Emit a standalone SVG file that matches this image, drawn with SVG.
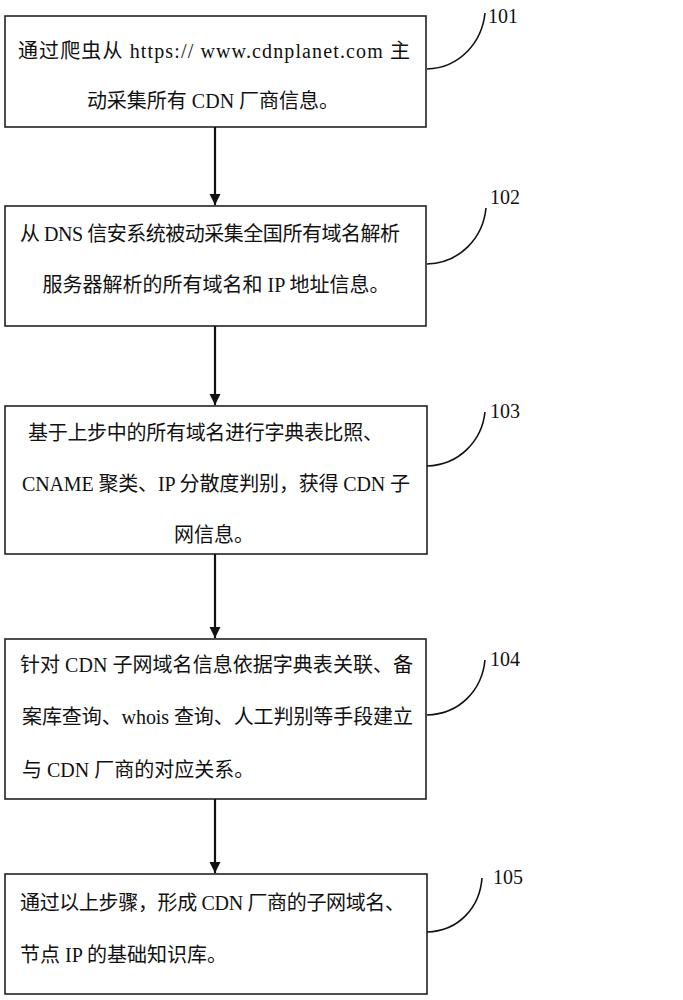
<svg xmlns="http://www.w3.org/2000/svg" width="683" height="1000" viewBox="0 0 683 1000">
<defs>
<style>
.box{fill:#fff;stroke:#222;stroke-width:1.6}
.t{font-family:"Liberation Serif","Noto Sans CJK SC",serif;font-size:20px;fill:#111}
.c{text-anchor:middle}
.lbl{font-family:"Liberation Serif",serif;font-size:20px;fill:#111}
.lead{fill:none;stroke:#111;stroke-width:1.6}
.arr{stroke:#111;stroke-width:2.2;fill:none;marker-end:url(#ah)}
</style>
<marker id="ah" viewBox="0 0 10 10" refX="10" refY="5" markerWidth="5" markerHeight="6" markerUnits="strokeWidth" orient="auto">
<path d="M0,0 L10,5 L0,10 Z" fill="#111"/>
</marker>
</defs>
<rect width="683" height="1000" fill="#fff"/>
<g id="n101">
<rect class="box" x="5" y="16" width="421" height="111"/>
<text class="t" x="18" y="58" textLength="392" lengthAdjust="spacing">通过爬虫从 https:// www.cdnplanet.com 主</text>
<text class="t c" x="213" y="108">动采集所有 CDN 厂商信息。</text>
<text class="lbl" x="488" y="23">101</text>
</g>
<g id="n102">
<rect class="box" x="5" y="206" width="421" height="120"/>
<text class="t" x="20" y="241" textLength="380" lengthAdjust="spacing">从 DNS 信安系统被动采集全国所有域名解析</text>
<text class="t c" x="216" y="292">服务器解析的所有域名和 IP 地址信息。</text>
<text class="lbl" x="490" y="204">102</text>
</g>
<g id="n103">
<rect class="box" x="5" y="406" width="422" height="148"/>
<text class="t" x="28" y="440" textLength="355" lengthAdjust="spacing">基于上步中的所有域名进行字典表比照、</text>
<text class="t" x="22" y="491" textLength="388" lengthAdjust="spacing">CNAME 聚类、IP 分散度判别，获得 CDN 子</text>
<text class="t c" x="214" y="542">网信息。</text>
<text class="lbl" x="490" y="418">103</text>
</g>
<g id="n104">
<rect class="box" x="5" y="639" width="421" height="160"/>
<text class="t" x="20" y="672" textLength="393" lengthAdjust="spacing">针对 CDN 子网域名信息依据字典表关联、备</text>
<text class="t" x="22" y="724" textLength="391" lengthAdjust="spacing">案库查询、whois 查询、人工判别等手段建立</text>
<text class="t" x="22" y="777">与 CDN 厂商的对应关系。</text>
<text class="lbl" x="490" y="666">104</text>
</g>
<g id="n105">
<rect class="box" x="5" y="874" width="422" height="120"/>
<text class="t" x="20" y="910" textLength="385" lengthAdjust="spacing">通过以上步骤，形成 CDN 厂商的子网域名、</text>
<text class="t" x="20" y="962">节点 IP 的基础知识库。</text>
<text class="lbl" x="493" y="884">105</text>
</g>
<g id="connectors">
<line class="arr" x1="215" y1="127" x2="215" y2="205"/>
<line class="arr" x1="215" y1="326" x2="215" y2="405"/>
<line class="arr" x1="215" y1="554" x2="215" y2="638"/>
<line class="arr" x1="215" y1="799" x2="215" y2="873"/>
<path class="lead" d="M427,69 C460,68 482,42 485,13"/>
<path class="lead" d="M427,264 C460,263 483,238 486,208"/>
<path class="lead" d="M427,466 C460,465 482,440 485,412"/>
<path class="lead" d="M427,715 C460,714 482,690 485,660"/>
<path class="lead" d="M427,932 C460,931 480,906 482,878"/>
</g>
</svg>
